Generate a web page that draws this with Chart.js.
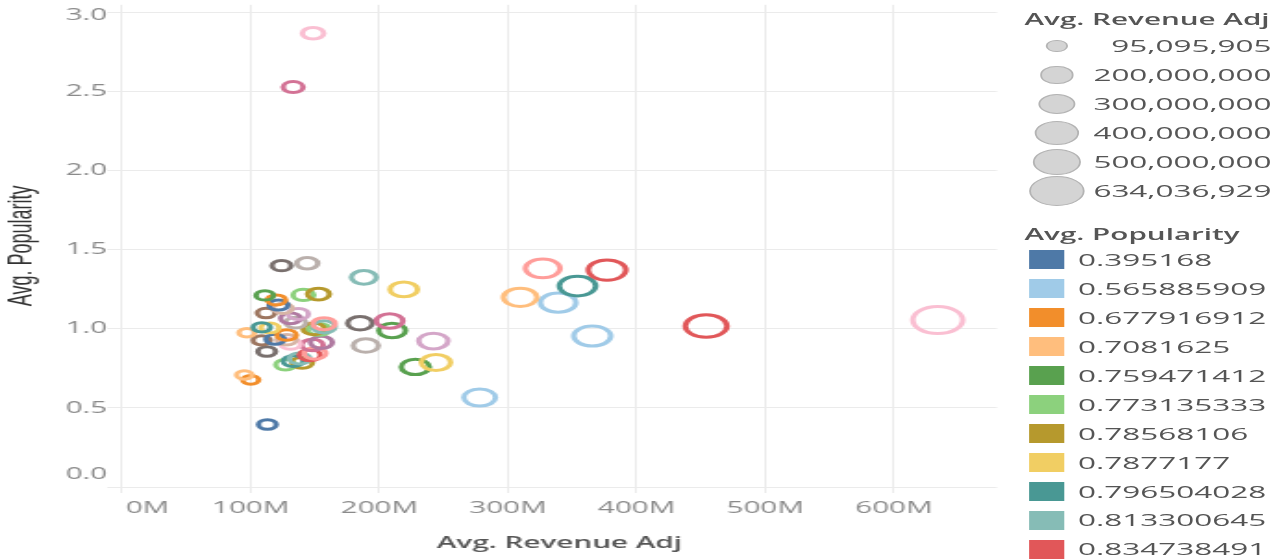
<!DOCTYPE html>
<html>
<head>
<meta charset="utf-8">
<script src="https://cdn.jsdelivr.net/npm/chart.js@4.4.1/dist/chart.umd.min.js"></script>
<style>
  html, body { margin: 0; padding: 0; background: #fff; overflow: hidden; width: 1279px; height: 559px; }
  #wrap { position: absolute; left: 0; top: 0; width: 691px; height: 559px; transform: scaleX(1.85094); transform-origin: 0 0; overflow: hidden; }
  #chartBox { position: absolute; left: 0; top: 0; width: 691px; height: 559px; }
  .lg-title { position: absolute; font-family: 'Open Sans', sans-serif; font-weight: 600; font-size: 16px; color: #555; white-space: nowrap; line-height: 20px; }
  .lg-text { position: absolute; font-family: 'Open Sans', sans-serif; font-size: 17px; color: #555; white-space: nowrap; line-height: 20px; }
  .lg-circle { position: absolute; border-radius: 50%; background: #d4d4d4; border: 1.5px solid #b4b4b4; box-sizing: border-box; }
  .lg-swatch { position: absolute; width: 19px; height: 19px; }
</style>
</head>
<body>
<div id="wrap">
  <div id="chartBox"><canvas id="c"></canvas></div>
  <div id="legend"></div>
</div>
<script>
// ---- data (sorted by popularity, as in the colour legend) ----
const popularity = [0.395168, 0.565885909, 0.677916912, 0.7081625, 0.759471412, 0.773135333, 0.78568106, 0.7877177, 0.796504028, 0.813300645, 0.834738491,
  0.845, 0.857, 0.895, 0.898, 0.905, 0.915, 0.923, 0.928, 0.931, 0.934, 0.955, 0.961, 0.976, 0.99, 0.997, 1.0, 1.006, 1.01, 1.013,
  1.018, 1.033, 1.036, 1.04, 1.05, 1.056, 1.067, 1.094, 1.1, 1.13, 1.151, 1.166, 1.183, 1.2, 1.212, 1.215, 1.22, 1.25, 1.271, 1.326,
  1.372, 1.383, 1.4, 1.415, 2.53, 2.87];
const revenueM = [113, 278, 100, 95.095905, 228, 127, 140, 244, 133, 138, 146,
  150, 112.5, 189.5, 148, 131, 155, 242, 108.6, 128, 119, 365.5, 128, 97, 210, 153, 149, 115, 108.6, 157,
  454, 157, 185, 135, 208, 634.036929, 131, 137, 112, 125, 121.6, 339, 120, 309.5, 111, 141, 152.7, 219, 354, 188,
  377, 327, 124, 144, 133, 148.5];
const xTickValues = [0, 100, 200, 300, 400, 500, 600];
const yTickValues = [0, 0.5, 1.0, 1.5, 2.0, 2.5, 3.0];
const sizeLegendValues = [95095905, 200000000, 300000000, 400000000, 500000000, 634036929];

// ---- styles ----
const palette = ['#4E79A7', '#A0CBE8', '#F28E2B', '#FFBE7D', '#59A14F', '#8CD17D', '#B6992D', '#F1CE63', '#499894', '#86BCB6',
  '#E15759', '#FF9D9A', '#79706E', '#BAB0AC', '#D37295', '#FABFD2', '#B07AA1', '#D4A6C8', '#9D7660', '#D7B5A6'];
const FONT = "'Open Sans', sans-serif";
const GRID = '#ebebeb';
function sizeFor(revM) { return 0.552 * Math.sqrt(Math.max(revM - 37.6, 1)); }

// colour by rank of popularity (Tableau discrete colour legend)
const order = popularity.map((v, i) => i).sort((a, b) => popularity[a] - popularity[b]);
const rankOf = new Array(popularity.length);
order.forEach((idx, r) => { rankOf[idx] = r; });

const points = popularity.map((p, i) => ({ x: revenueM[i], y: p, r: sizeFor(revenueM[i]) }));
const colors = popularity.map((p, i) => palette[rankOf[i] % palette.length]);

const edgeLabels = {
  id: 'edgeLabels',
  beforeDraw(chart) {
    const xi = chart.scales.x.getLabelItems();
    if (xi.length && !xi[0]._done) {
      xi[0].options.textAlign = 'left';
      xi[0].options.translation[0] += 2;
      xi[0]._done = true;
    }
    const yi = chart.scales.y.getLabelItems();
    if (yi.length && !yi[0]._done) {
      yi[0].options.translation[1] -= 13;
      yi[0]._done = true;
      const last = yi[yi.length - 1];
      last.options.translation[1] += 3;
    }
  }
};

new Chart(document.getElementById('c'), {
  type: 'bubble',
  data: {
    datasets: [{
      data: points,
      borderColor: colors,
      hoverBorderColor: colors,
      backgroundColor: 'rgba(0,0,0,0)',
      hoverBackgroundColor: 'rgba(0,0,0,0)',
      borderWidth: 3,
      hoverBorderWidth: 3
    }]
  },
  options: {
    responsive: true,
    maintainAspectRatio: false,
    animation: false,
    events: [],
    layout: { autoPadding: false, padding: { top: 4.8, right: 152.4, left: 0, bottom: 0 } },
    plugins: { legend: { display: false }, tooltip: { enabled: false } },
    scales: {
      x: {
        type: 'linear', min: 0, max: 680,
        afterBuildTicks: s => { s.ticks = xTickValues.map(v => ({ value: v })); },
        ticks: { autoSkip: false, maxRotation: 0, color: '#8a8a8a', font: { family: FONT, size: 16 }, padding: 6,
          callback: v => v + 'M' },
        grid: { color: GRID, tickColor: GRID, tickLength: 6, lineWidth: 1 },
        border: { display: false },
        title: { display: true, text: 'Avg. Revenue Adj', color: '#555', font: { family: FONT, size: 16, weight: '600' }, padding: { top: 0, bottom: 6 } },
        afterFit: s => { s.height = 72; }
      },
      y: {
        type: 'linear', min: 0, max: 3.05,
        afterBuildTicks: s => { s.ticks = yTickValues.map(v => ({ value: v })); },
        ticks: { autoSkip: false, color: '#8a8a8a', font: { family: FONT, size: 16, lineHeight: 0.55 }, padding: 0,
          callback: v => Number(v).toFixed(1) },
        grid: { color: GRID, tickColor: GRID, tickLength: 8, lineWidth: 1 },
        border: { display: false },
        title: { display: true, text: 'Avg. Popularity', color: '#333', font: { family: "'Liberation Sans', Arial, sans-serif", size: 18 }, padding: { top: 1, bottom: 0 } },
        afterFit: s => { s.width = 65.9; }
      }
    }
  },
  plugins: [edgeLabels]
});

// ---- legends (HTML, inside the stretched wrapper) ----
const lg = document.getElementById('legend');
function add(cls, css, text) {
  const d = document.createElement('div');
  d.className = cls;
  Object.assign(d.style, css);
  if (text !== undefined) d.textContent = text;
  lg.appendChild(d);
  return d;
}
// size legend
add('lg-title', { left: '553.5px', top: '9px' }, 'Avg. Revenue Adj');
sizeLegendValues.forEach((v, i) => {
  const cy = 46 + i * 29;
  const r = sizeFor(v / 1e6) + 1.5;
  add('lg-circle', { left: (571 - r) + 'px', top: (cy - r) + 'px', width: (2 * r) + 'px', height: (2 * r) + 'px' });
  add('lg-text', { right: (691 - 687) + 'px', top: (cy - 10) + 'px', textAlign: 'right' }, v.toLocaleString('en-US'));
});
// colour legend
add('lg-title', { left: '553.5px', top: '224px' }, 'Avg. Popularity');
order.forEach((idx, r) => {
  const cy = 260 + r * 28.94;
  if (cy > 575) return;
  add('lg-swatch', { left: '556.2px', top: (cy - 9.7) + 'px', background: palette[r % palette.length] });
  add('lg-text', { left: '582.4px', top: (cy - 10) + 'px' }, String(popularity[idx]));
});
</script>
</body>
</html>
